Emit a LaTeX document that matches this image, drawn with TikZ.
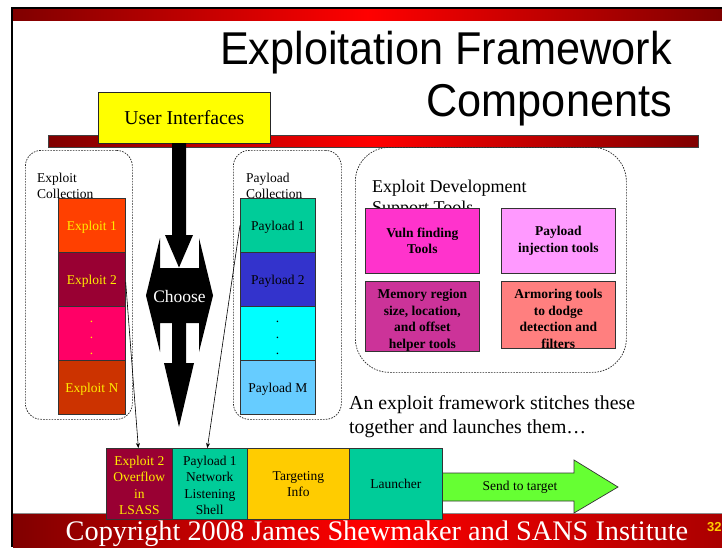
\documentclass[tikz,border=0pt]{standalone}
\usepackage{fontspec}
\setmainfont{Liberation Serif}
\newfontfamily\headsans{Liberation Sans}
\usetikzlibrary{arrows.meta}

\definecolor{barDark}{RGB}{128,0,0}
\definecolor{barRed}{RGB}{255,0,0}
\definecolor{uiYellow}{RGB}{255,255,0}
\definecolor{labYellow}{RGB}{255,238,0}
\definecolor{pageGold}{RGB}{255,204,0}
\definecolor{exOne}{RGB}{255,64,0}
\definecolor{exTwo}{RGB}{153,0,51}
\definecolor{exDots}{RGB}{255,0,102}
\definecolor{exN}{RGB}{204,51,0}
\definecolor{payOne}{RGB}{0,204,153}
\definecolor{payTwo}{RGB}{51,51,204}
\definecolor{payDots}{RGB}{0,255,255}
\definecolor{payM}{RGB}{102,204,255}
\definecolor{vulnCol}{RGB}{255,51,204}
\definecolor{injCol}{RGB}{255,153,255}
\definecolor{memCol}{RGB}{204,51,153}
\definecolor{armCol}{RGB}{255,127,127}
\definecolor{tgtCol}{RGB}{255,204,0}
\definecolor{sendCol}{RGB}{102,255,51}

% invisible strut that pushes the first line of a label down
\newcommand{\topgap}[1]{\rule{0pt}{#1}}

\begin{document}
\begin{tikzpicture}[x=1pt,y=-1pt,
  small/.style={font=\fontsize{13.5}{16.3}\selectfont},
  cell/.style={small, draw=black!80, line width=0.7pt, anchor=north west,
    inner sep=0pt, align=center},
  toolbox/.style={cell, font=\bfseries\fontsize{13.5}{16.7}\selectfont},
  collect/.style={draw=black!85, line width=0.7pt, dash pattern=on 1.6pt off 1.2pt,
    anchor=north west, inner sep=0pt},
  corner/.style={anchor=north west, inner sep=0pt, align=left},
  blockarrow/.style={fill=black},
  conn/.style={line width=0.6pt, -{Stealth[length=5pt,width=4pt]}},
  dotmark/.style={small, anchor=base, inner sep=0pt},
  lower/.style={text depth=0pt}
]
\useasboundingbox (0,0) rectangle (722,547);
\fill[white] (0,0) rectangle (722,547);

% slide frame and header bar
\draw[black, line width=1.6pt] (12,547) -- (12,8) -- (722,8);
\fill[left color=barDark, right color=barDark, middle color=barRed] (13,9) rectangle (722,20.5);

% title
\node[anchor=base east, inner sep=0pt, font=\headsans\fontsize{46}{50}\selectfont] (title1)
  at (672,64) {\scalebox{0.94}[1]{Exploitation Framework}};
\node[anchor=base east, inner sep=0pt, font=\headsans\fontsize{46}{50}\selectfont] (title2)
  at (672,116) {\scalebox{0.94}[1]{Components}};

% rule under the title
\fill[left color=barDark, right color=barDark, middle color=barRed] (48,135) rectangle (698,147);
\draw[black!75, line width=0.5pt] (48,135) rectangle (698,147);

% user interfaces
\node[draw=black!85, fill=uiYellow, line width=0.7pt, minimum width=172pt, minimum height=51pt,
  anchor=north west, inner sep=0pt, font=\fontsize{19.7}{22}\selectfont] (ui) at (98,92) {User Interfaces};

% exploit collection
\node[collect, rounded corners=16pt, minimum width=107pt, minimum height=269pt] (excoll) at (25,150) {};
\node[corner, small] (exlbl) at (37,172.8) {Exploit\\Collection};
\node[cell, lower, fill=exOne, text=labYellow, minimum width=67pt, minimum height=54pt] (ex1) at (58,198) {Exploit 1};
\node[cell, lower, fill=exTwo, text=labYellow, minimum width=67pt, minimum height=54pt] (ex2) at (58,252) {Exploit 2};
\node[cell, fill=exDots, minimum width=67pt, minimum height=54pt] (exd) at (58,306) {};
\node[cell, lower, fill=exN, text=labYellow, minimum width=67pt, minimum height=54pt] (exn) at (58,360) {Exploit N};
\foreach \yy in {322,338,354} \node[dotmark, text=labYellow] at (91.5,\yy) {.};

% payload collection
\node[collect, rounded corners=16pt, minimum width=108pt, minimum height=269pt] (paycoll) at (233,150) {};
\node[corner, small] (paylbl) at (246,172.8) {Payload\\Collection};
\node[cell, lower, fill=payOne, minimum width=75pt, minimum height=54pt] (pay1) at (240,198) {Payload 1};
\node[cell, lower, fill=payTwo, minimum width=75pt, minimum height=54pt] (pay2) at (240,252) {Payload 2};
\node[cell, fill=payDots, minimum width=75pt, minimum height=54pt] (payd) at (240,306) {};
\node[cell, lower, fill=payM, minimum width=75pt, minimum height=54pt] (paym) at (240,360) {Payload M};
\foreach \yy in {322,338,354} \node[dotmark] at (277.5,\yy) {.};

% exploit development support tools
\node[collect, rounded corners=34pt, minimum width=271pt, minimum height=225pt] (devcoll) at (355,147) {};
\node[corner, font=\fontsize{18}{21}\selectfont] (devlbl) at (372,179.7) {Exploit Development\\Support Tools};
\node[toolbox, fill=vulnCol, minimum width=114pt, minimum height=65pt] (vuln) at (365,208) {Vuln finding\\Tools};
\node[toolbox, fill=injCol, minimum width=114pt, minimum height=65pt] (inj) at (501,208) {Payload\\injection tools};
\node[toolbox, fill=memCol, minimum width=114pt, minimum height=66pt] (mem) at (365,281)
  {\topgap{17pt}Memory region\\size, location,\\and offset\\helper tools};
\node[toolbox, fill=armCol, minimum width=114pt, minimum height=66pt] (arm) at (501,281)
  {\topgap{17pt}Armoring tools\\to dodge\\detection and\\filters};

% choose: arrow from the interfaces, left-right selector, arrow down to the launcher chain
\fill[blockarrow] (172,143) -- (186,143) -- (186,235) -- (193,235) -- (179,267.5)
  -- (165,235) -- (172,235) -- cycle;
\fill[blockarrow] (146,295.5) -- (160,238) -- (160,268) -- (199,268) -- (199,238) -- (213,295.5)
  -- (199,352) -- (199,323) -- (160,323) -- (160,352) -- cycle;
\fill[blockarrow] (172,323) -- (186,323) -- (186,363) -- (194,363) -- (179,427)
  -- (164,363) -- (172,363) -- cycle;
\node[text=white, inner sep=0pt, font=\fontsize{17.5}{20}\selectfont] (choose) at (179.5,296.5) {Choose};

% caption
\node[corner, font=\fontsize{19.8}{23.5}\selectfont] (caption) at (349,395.5)
  {An exploit framework stitches these\\together and launches them…};

% footer
\fill[left color=barDark, right color={rgb,255:red,170;green,0;blue,0}, middle color=barRed]
  (13,514) rectangle (722,547);
\draw[black!45, line width=0.8pt] (13,513.6) -- (722,513.6);
\node[anchor=base, inner sep=0pt, text=white, font=\fontsize{28.3}{30}\selectfont] (copyright)
  at (377,540.5) {Copyright 2008 James Shewmaker and SANS Institute};
\node[anchor=base west, inner sep=0pt, text=pageGold, font=\headsans\bfseries\fontsize{13}{14}\selectfont]
  (pageno) at (707,531) {32};

% send arrow
\filldraw[fill=sendCol, draw=black!80, line width=0.7pt] (442,473) -- (574,473) -- (574,460)
  -- (618,487) -- (574,513) -- (574,501) -- (442,501) -- cycle;

% assembled exploit chain
\node[cell, fill=exTwo, text=labYellow, minimum width=66pt, minimum height=71pt] (bex) at (106,448)
  {\topgap{12.5pt}Exploit 2\\Overflow\\in\\LSASS};
\node[cell, fill=payOne, minimum width=75pt, minimum height=71pt] (bpay) at (172,448)
  {\topgap{12.5pt}Payload 1\\Network\\Listening\\Shell};
\node[cell, fill=tgtCol, minimum width=102pt, minimum height=71pt] (btgt) at (247,448)
  {Targeting\\Info};
\node[cell, fill=payOne, minimum width=93pt, minimum height=71pt] (blaunch) at (349,448) {Launcher};
\node[small, inner sep=0pt] (sendlbl) at (520,487) {Send to target};

% connectors from the chosen parts to the chain
\draw[conn] ([yshift=-3pt]ex2.east) -- ([xshift=-1pt]bex.north);
\draw[conn] (pay1.west) -- ([xshift=-2.5pt]bpay.north);
\end{tikzpicture}
\end{document}
